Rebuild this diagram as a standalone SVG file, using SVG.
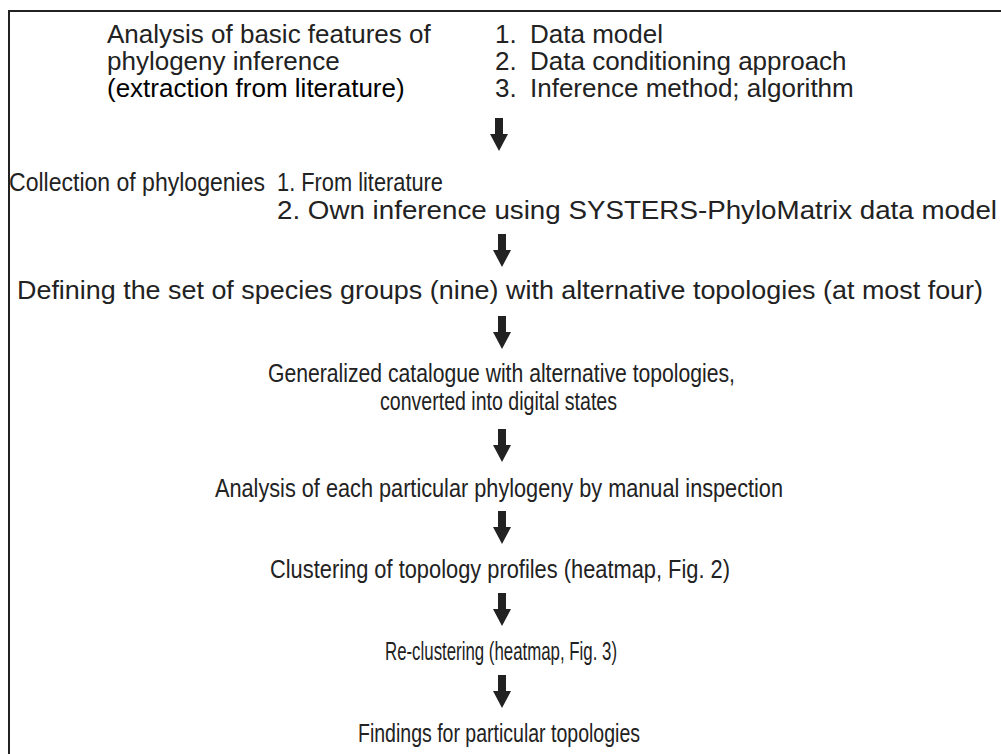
<svg xmlns="http://www.w3.org/2000/svg" width="1001" height="754" viewBox="0 0 1001 754">
<defs>
<style>
text{font-family:"Liberation Sans",Arial,sans-serif;font-size:25px;fill:#222}
.t{font-size:26px}
.fr{fill:none;stroke:#222;stroke-width:2}
.ar{fill:#222}
</style>
<path id="arw" d="M-4,0 H4 V16 H9 L0,33 L-9,16 H-4 Z"/>
</defs>
<rect width="1001" height="754" fill="#fff"/>
<path class="fr" d="M9,754 V11 H1001"/>
<g id="n1">
<text class="t" x="107" y="43">Analysis of basic features of</text>
<text class="t" x="107" y="70">phylogeny inference</text>
<text class="t" x="107" y="97" style="fill:#000">(extraction from literature)</text>
<text class="t" x="495" y="43">1.<tspan x="530">Data model</tspan></text>
<text class="t" x="495" y="70">2.<tspan x="530">Data conditioning approach</tspan></text>
<text class="t" x="495" y="97">3.<tspan x="530">Inference method; algorithm</tspan></text>
</g>
<g id="n2">
<text x="9" y="191" textLength="256" lengthAdjust="spacingAndGlyphs">Collection of phylogenies</text>
<text x="277" y="191" textLength="166" lengthAdjust="spacingAndGlyphs">1. From literature</text>
<text x="277" y="219" textLength="720" lengthAdjust="spacingAndGlyphs">2. Own inference using SYSTERS-PhyloMatrix data model</text>
</g>
<g id="n3"><text x="17" y="299" textLength="966" lengthAdjust="spacingAndGlyphs">Defining the set of species groups (nine) with alternative topologies (at most four)</text></g>
<g id="n4">
<text x="268" y="382" textLength="467" lengthAdjust="spacingAndGlyphs">Generalized catalogue with alternative topologies,</text>
<text x="380" y="410" textLength="237" lengthAdjust="spacingAndGlyphs">converted into digital states</text>
</g>
<g id="n5"><text x="215" y="497" textLength="568" lengthAdjust="spacingAndGlyphs">Analysis of each particular phylogeny by manual inspection</text></g>
<g id="n6"><text x="270" y="578" textLength="460" lengthAdjust="spacingAndGlyphs">Clustering of topology profiles (heatmap, Fig. 2)</text></g>
<g id="n7"><text x="385" y="660" textLength="232" lengthAdjust="spacingAndGlyphs">Re-clustering (heatmap, Fig. 3)</text></g>
<g id="n8"><text x="358" y="742" textLength="282" lengthAdjust="spacingAndGlyphs">Findings for particular topologies</text></g>
<g id="connectors" class="ar">
<use href="#arw" x="499" y="118"/>
<use href="#arw" x="502" y="234"/>
<use href="#arw" x="502" y="316"/>
<use href="#arw" x="502" y="429"/>
<use href="#arw" x="502" y="511"/>
<use href="#arw" x="502" y="593"/>
<use href="#arw" x="502" y="675"/>
</g>
</svg>
